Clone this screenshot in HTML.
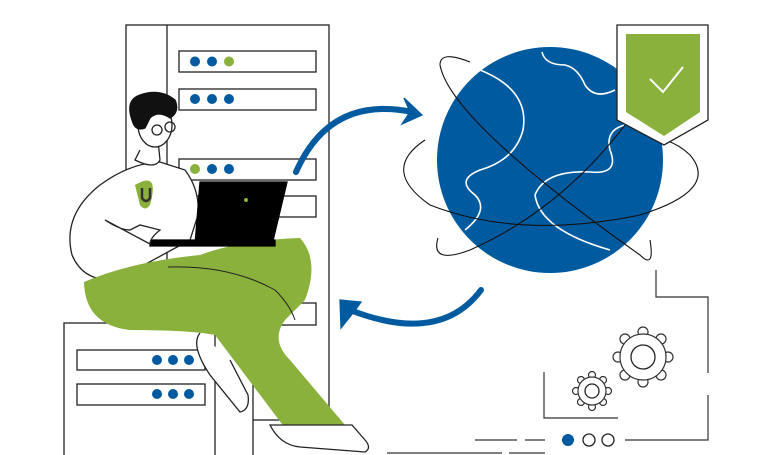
<!DOCTYPE html>
<html><head><style>html,body{margin:0;padding:0;background:#fff}svg{display:block}</style></head><body>
<svg width="768" height="455" viewBox="0 0 768 455" xmlns="http://www.w3.org/2000/svg" fill="none" stroke="#222" stroke-width="1.3">
<!-- rack -->
<rect x="126" y="25" width="203" height="395" fill="#fff"/>
<line x1="167" y1="25" x2="167" y2="420"/>
<g fill="#fff">
<rect x="179" y="51" width="137" height="21"/><rect x="179" y="89" width="137" height="21"/>
<rect x="179" y="159" width="137" height="21"/><rect x="179" y="196" width="137" height="21"/>
<rect x="179" y="303" width="137" height="22"/></g>
<g fill="#005aa0" stroke="none">
<circle cx="195" cy="61.5" r="5"/><circle cx="212" cy="61.5" r="5"/><circle cx="229" cy="61.5" r="5" fill="#8ab13c"/>
<circle cx="195" cy="99" r="5"/><circle cx="212" cy="99" r="5"/><circle cx="229" cy="99" r="5"/>
<circle cx="195" cy="169" r="5" fill="#8ab13c"/><circle cx="212" cy="169" r="5"/><circle cx="229" cy="169" r="5"/>
</g>
<!-- small box -->
<rect x="64" y="323" width="189" height="135" fill="#fff"/>
<line x1="215" y1="323" x2="215" y2="455"/>
<rect x="77" y="350" width="128" height="20"/><rect x="77" y="384" width="128" height="21"/>
<g fill="#005aa0" stroke="none">
<circle cx="157" cy="360" r="5"/><circle cx="173" cy="360" r="5"/><circle cx="189" cy="360" r="5"/>
<circle cx="157" cy="394" r="5"/><circle cx="173" cy="394" r="5"/><circle cx="189" cy="394" r="5"/></g>
<!-- arrows -->
<path d="M296 172 Q330 95 412 112" stroke="#005aa0" stroke-width="6" stroke-linecap="round"/>
<path d="M404 98 L422 115 L402 124 L410 112 Z" fill="#005aa0" stroke="#005aa0"/>
<path d="M481 290 Q440 345 350 310" stroke="#005aa0" stroke-width="6" stroke-linecap="round"/>
<path d="M340 300 L361 302 L353 313 L341 328 Z" fill="#005aa0" stroke="#005aa0"/>
<!-- globe -->
<circle cx="550" cy="160" r="113" fill="#005aa0" stroke="none"/>
<g stroke="#fff" stroke-width="1.6">
<path d="M480 70 Q530 90 523 130 Q515 160 480 170 Q455 180 475 195 Q490 210 465 230"/>
<path d="M542 52 Q545 65 565 65 Q578 68 585 85 Q595 100 615 90"/>
<path d="M625 125 Q605 130 610 150 Q620 175 590 172 Q545 170 535 195 Q540 230 610 250"/>
</g>
<g stroke="#111" stroke-width="1.1">
<path d="M470 62 Q440 50 440 65 Q450 120 640 255 Q655 270 650 240"/>
<path d="M425 140 Q380 170 430 205 Q520 240 640 215 Q720 190 690 155 Q680 145 665 140"/>
<path d="M438 238 Q430 265 470 250 Q560 210 625 125"/>
</g>
<!-- shield -->
<path d="M617 25 H708 V120 L664 145 L617 120 Z" fill="#fff"/>
<path d="M626 34 H700 V112 L664 136 L626 112 Z" fill="#8ab13c" stroke="none"/>
<path d="M650 79 L663 92 L683 67" stroke="#fff" stroke-width="2"/>
<!-- right bracket lines -->
<g stroke="#333" stroke-width="1.2">
<path d="M656 270 V297 H708 V373"/><path d="M708 395 V440 H625"/>
<path d="M544 372 V418 H618"/>
<line x1="475" y1="440" x2="517" y2="440"/><line x1="525" y1="440" x2="545" y2="440"/>
<line x1="387" y1="453" x2="502" y2="453"/><line x1="509" y1="453" x2="545" y2="453"/>
</g>
<circle cx="568" cy="440" r="6" fill="#005aa0" stroke="none"/>
<circle cx="589" cy="440" r="6"/><circle cx="608" cy="440" r="6"/>
<!-- gears -->
<g fill="#fff" stroke="#333" stroke-width="1.2">
<circle cx="643" cy="332" r="5"/><circle cx="661" cy="339" r="5"/><circle cx="668" cy="357" r="5"/><circle cx="661" cy="375" r="5"/>
<circle cx="643" cy="382" r="5"/><circle cx="625" cy="375" r="5"/><circle cx="618" cy="357" r="5"/><circle cx="625" cy="339" r="5"/>
<circle cx="643" cy="357" r="23"/>
</g>
<circle cx="643" cy="357" r="22" fill="#fff" stroke="none"/>
<circle cx="643" cy="357" r="12"/>
<g fill="#fff" stroke="#333" stroke-width="1.2">
<circle cx="592" cy="375" r="3.5"/><circle cx="603" cy="380" r="3.5"/><circle cx="608" cy="391" r="3.5"/><circle cx="603" cy="402" r="3.5"/>
<circle cx="592" cy="407" r="3.5"/><circle cx="581" cy="402" r="3.5"/><circle cx="576" cy="391" r="3.5"/><circle cx="581" cy="380" r="3.5"/>
<circle cx="592" cy="391" r="14"/>
</g>
<circle cx="592" cy="391" r="13" fill="#fff" stroke="none"/>
<circle cx="592" cy="391" r="7"/>
<!-- person -->
<path d="M100 185 Q130 163 160 162 L185 170 Q200 190 198 215 L190 240 L120 278 Q85 285 72 255 Q62 215 100 185 Z" fill="#fff"/>
<path d="M135 185 Q160 170 150 205 Q145 212 140 205 Z" fill="#8ab13c" stroke="none"/>
<path d="M142 188 V198 Q146 204 150 198 V188" stroke="#333" stroke-width="2.5"/>
<path d="M140 150 L135 160 Q155 170 160 160 L158 140" fill="#fff"/>
<ellipse cx="155" cy="125" rx="17" ry="22" fill="#fff"/>
<path d="M132 120 Q125 100 140 95 Q160 88 175 100 Q180 112 170 118 Q158 110 150 118 L145 128 Q135 132 132 120 Z" fill="#111" stroke="#111"/>
<circle cx="157" cy="130" r="5"/><circle cx="170" cy="127" r="5"/>
<path d="M84 282 Q130 262 200 255 Q240 240 300 238 Q320 260 305 300 L285 320 Q270 340 290 360 L345 425 L285 428 L215 335 Q190 330 130 330 Q85 325 84 282 Z" fill="#8ab13c" stroke="none"/>
<path d="M168 267 Q230 265 275 290 Q290 305 295 320" stroke-width="1"/>
<path d="M200 333 Q190 345 210 375 L240 412 Q250 410 248 395 L230 360" fill="#fff"/>
<path d="M270 425 Q280 445 300 447 L365 452 Q372 448 365 440 L352 425 Z" fill="#fff"/>
<path d="M200 182 H287 L272 245 H195 Z" fill="#000" stroke="#000"/>
<path d="M150 240 H275 V246 H150 Z" fill="#000" stroke="#000"/>
<circle cx="246" cy="200" r="2" fill="#8ab13c" stroke="none"/>
<path d="M105 220 Q120 230 130 230 L140 225 L160 230 Q150 238 150 244 Z" fill="#fff"/>
</svg>
</body></html>
